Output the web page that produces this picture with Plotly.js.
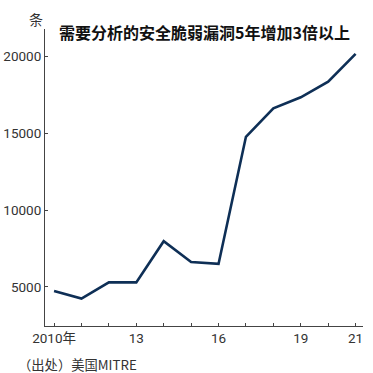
<!DOCTYPE html>
<html><head><meta charset="utf-8">
<script src="https://cdn.plot.ly/plotly-3.0.1.min.js"></script>
<style>html,body{margin:0;padding:0;background:#fff}#chart{width:373px;height:373px}</style>
</head><body><div id="chart"></div>
<script>
const years = [2010,2011,2012,2013,2014,2015,2016,2017,2018,2019,2020,2021];
const counts = [4740,4240,5300,5300,7980,6630,6500,14780,16630,17350,18370,20180];
const tickLabels = ["2010年","","","13","","","16","","","19","","21"];
const yTicks = [5000,10000,15000,20000];
const titleText = "需要分析的安全脆弱漏洞5年增加3倍以上";
const unitText = "条";
const sourceText = "（出处）美国MITRE";

const tickFont = {family:"Roboto, Noto Sans CJK SC, sans-serif", size:13.5, color:"#333"};
const cjk = "Noto Sans CJK SC, sans-serif";

Plotly.newPlot("chart", [{
  x: years, y: counts, type:"scatter", mode:"lines",
  line:{color:"#0e2f56", width:2.6}, hoverinfo:"skip"
}], {
  width:373, height:373,
  margin:{l:45, r:10, t:29, b:47},
  paper_bgcolor:"#fff", plot_bgcolor:"#fff",
  showlegend:false,
  font:{family:cjk},
  xaxis:{range:[2009.67,2021.27], tickvals:years, ticktext:tickLabels,
    showline:true, linecolor:"#444", linewidth:1, ticks:"inside", ticklen:3, tickcolor:"#444",
    showgrid:false, zeroline:false, tickfont:tickFont},
  yaxis:{range:[2457,21800], tickvals:yTicks, ticktext:yTicks.map(String),
    showline:true, linecolor:"#444", linewidth:1, ticks:"inside", ticklen:3, tickcolor:"#444",
    showgrid:false, zeroline:false, tickfont:tickFont},
  annotations:[
    {text:titleText, xref:"paper", yref:"paper", x:(204-45)/318, y:1, yshift:-2.5, xanchor:"center", yanchor:"middle",
     showarrow:false, font:{family:cjk, size:16, color:"#111", weight:"bold"}},
    {text:unitText, xref:"paper", yref:"paper", x:(36-45)/318, y:1, yshift:10, xanchor:"center", yanchor:"middle",
     showarrow:false, font:{family:cjk, size:14, color:"#333"}},
    {text:sourceText, xref:"paper", yref:"paper", x:(16-45)/318, y:0, yshift:-27, xanchor:"left", yanchor:"top",
     showarrow:false, font:{family:cjk, size:13.3, color:"#333"}}
  ]
}, {displayModeBar:false, staticPlot:true});
</script></body></html>
